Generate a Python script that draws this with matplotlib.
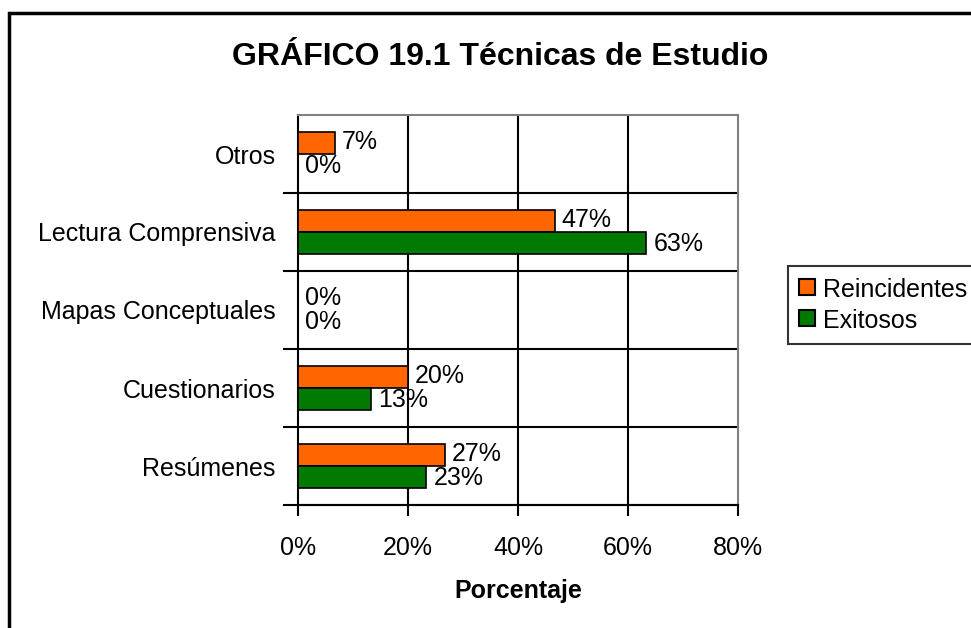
import matplotlib.pyplot as plt
from matplotlib.patches import Rectangle
from matplotlib.lines import Line2D
import numpy as np

plt.rcParams['font.family'] = ['Liberation Sans', 'DejaVu Sans']

# Datos del gráfico (de abajo hacia arriba)
categorias = ['Resúmenes', 'Cuestionarios', 'Mapas Conceptuales', 'Lectura Comprensiva', 'Otros']
reincidentes = [26.67, 20.0, 0.0, 46.67, 6.67]
exitosos = [23.33, 13.33, 0.0, 63.33, 0.0]
series = ['Reincidentes', 'Exitosos']
colores = ['#FF6600', '#007A00']

fig = plt.figure(figsize=(9.71, 6.28), dpi=100)
ax = fig.add_axes([298 / 971, 1 - 505 / 628, 440 / 971, 390 / 628])

y = np.arange(len(categorias))
h = 0.28
ax.barh(y + h / 2, reincidentes, height=h, color=colores[0], edgecolor='black', linewidth=1.2, zorder=3)
ax.barh(y - h / 2, exitosos, height=h, color=colores[1], edgecolor='black', linewidth=1.2, zorder=3)

# Etiquetas de valores
for i in range(len(categorias)):
    ax.text(reincidentes[i] + 1.3, y[i] + h / 2 + 0.01, f"{reincidentes[i]:.0f}%", va='center', ha='left', fontsize=18)
    ax.text(exitosos[i] + 1.3, y[i] - h / 2 - 0.02, f"{exitosos[i]:.0f}%", va='center', ha='left', fontsize=18)

ax.set_xlim(0, 80)
ax.set_ylim(-0.5, len(categorias) - 0.5)
ax.set_xticks([0, 20, 40, 60, 80])
ax.set_xticklabels(['0%', '20%', '40%', '60%', '80%'], fontsize=18)
ax.set_yticks(y)
ax.set_yticklabels(categorias, fontsize=18)
ax.tick_params(axis='y', length=0, pad=16)
ax.tick_params(axis='x', length=8, width=1.5, direction='out', pad=14)

# Líneas de cuadrícula
for xv in [20, 40, 60]:
    ax.axvline(xv, color='black', linewidth=1.5, zorder=1)
for yv in np.arange(-0.5, len(categorias) - 0.5, 1.0):
    ax.plot([-2.5, 80], [yv, yv], color='black', linewidth=1.5, zorder=1, clip_on=False)

for s in ['top', 'right']:
    ax.spines[s].set_color('#808080')
    ax.spines[s].set_linewidth(1.5)
ax.spines['left'].set_linewidth(1.5)
ax.spines['bottom'].set_linewidth(1.5)

ax.set_xlabel('Porcentaje', fontsize=18, fontweight='bold', labelpad=14)

fig.text(500 / 971, 1 - 57 / 628, 'GRÁFICO 19.1 Técnicas de Estudio', fontsize=23, fontweight='bold',
         ha='center', va='center')

# Leyenda
handles = [Line2D([], [], marker='s', linestyle='none', markersize=11, markerfacecolor=c,
                  markeredgecolor='black', markeredgewidth=1.5) for c in colores]
leg = fig.legend(handles, series, loc='upper left', bbox_to_anchor=(788 / 971, 1 - 266 / 628),
                 fontsize=18, frameon=True, fancybox=False, handlelength=0.7, handletextpad=0.3,
                 handleheight=1.2, borderpad=0.4, labelspacing=0.2, borderaxespad=0)
leg.get_frame().set_edgecolor('black')
leg.get_frame().set_linewidth(1.5)

# Marco exterior
fig.patches.append(Rectangle((9 / 971, -0.1), 1.2, 1 - 13 / 628 + 0.1, transform=fig.transFigure,
                             fill=False, edgecolor='black', linewidth=2.5, clip_on=False))

fig.savefig('out.png', dpi=100)
